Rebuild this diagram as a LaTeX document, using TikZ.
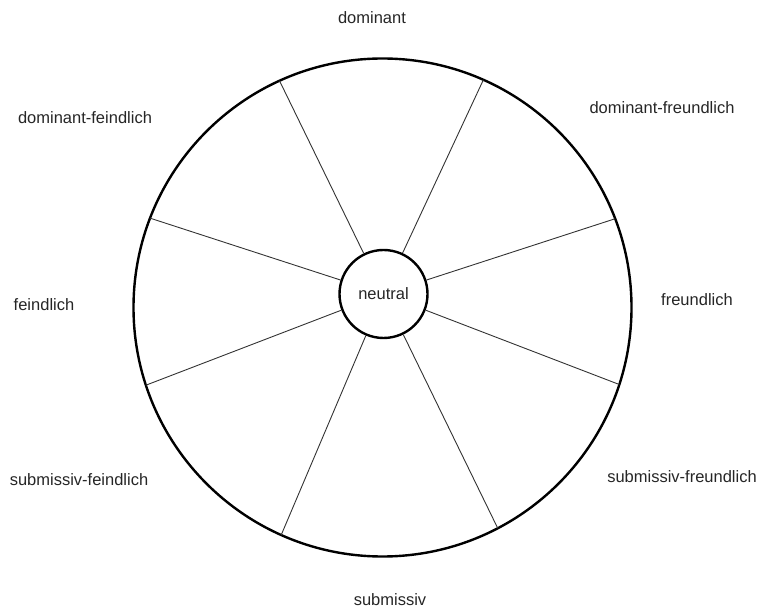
\documentclass[tikz,border=0pt]{standalone}
\usepackage{fontspec}
\setmainfont{Liberation Sans}
\usetikzlibrary{calc}
\tikzset{
  rim/.style={line width=2.4pt},
  spoke/.style={line width=0.9pt, black!80},
  lbl/.style={font=\fontsize{16.5}{20}\selectfont, text=black!85, inner sep=0pt}
}
\begin{document}
\begin{tikzpicture}[x=10pt, y=10pt]
\useasboundingbox (0,0) rectangle (76.2,61);
\coordinate (O) at (38.25,30.25);
\coordinate (N) at (38.35,31.6);
\draw[rim] (O) circle (24.9);
\node[rim, draw, circle, minimum size=88pt, inner sep=0pt, lbl] (neutral) at (N) {neutral};
\foreach \a [count=\i] in {18,65,116,162,201,247,296,339} {
  \pgfmathsetmacro\du{cos(\a)*0.1+sin(\a)*1.35}
  \pgfmathsetmacro\t{-\du+sqrt(\du*\du-0.01-1.8225+24.9*24.9)}
  \coordinate (p\i) at ($(N)+(\a:\t)$);
  \draw[spoke] (neutral) -- (p\i);
}
% labels round the wheel
\node[lbl] (dom) at (37.2,59.2) {dominant};
\node[lbl] (domfeind) at (8.5,49.2) {dominant-feindlich};
\node[lbl] (domfreund) at (66.2,50.2) {dominant-freundlich};
\node[lbl] (feind) at (4.4,30.5) {feindlich};
\node[lbl] (freund) at (69.7,31) {freundlich};
\node[lbl] (subfeind) at (7.9,13) {submissiv-feindlich};
\node[lbl] (subfreund) at (68.2,13.3) {submissiv-freundlich};
\node[lbl] (sub) at (39,1) {submissiv};
\end{tikzpicture}
\end{document}
